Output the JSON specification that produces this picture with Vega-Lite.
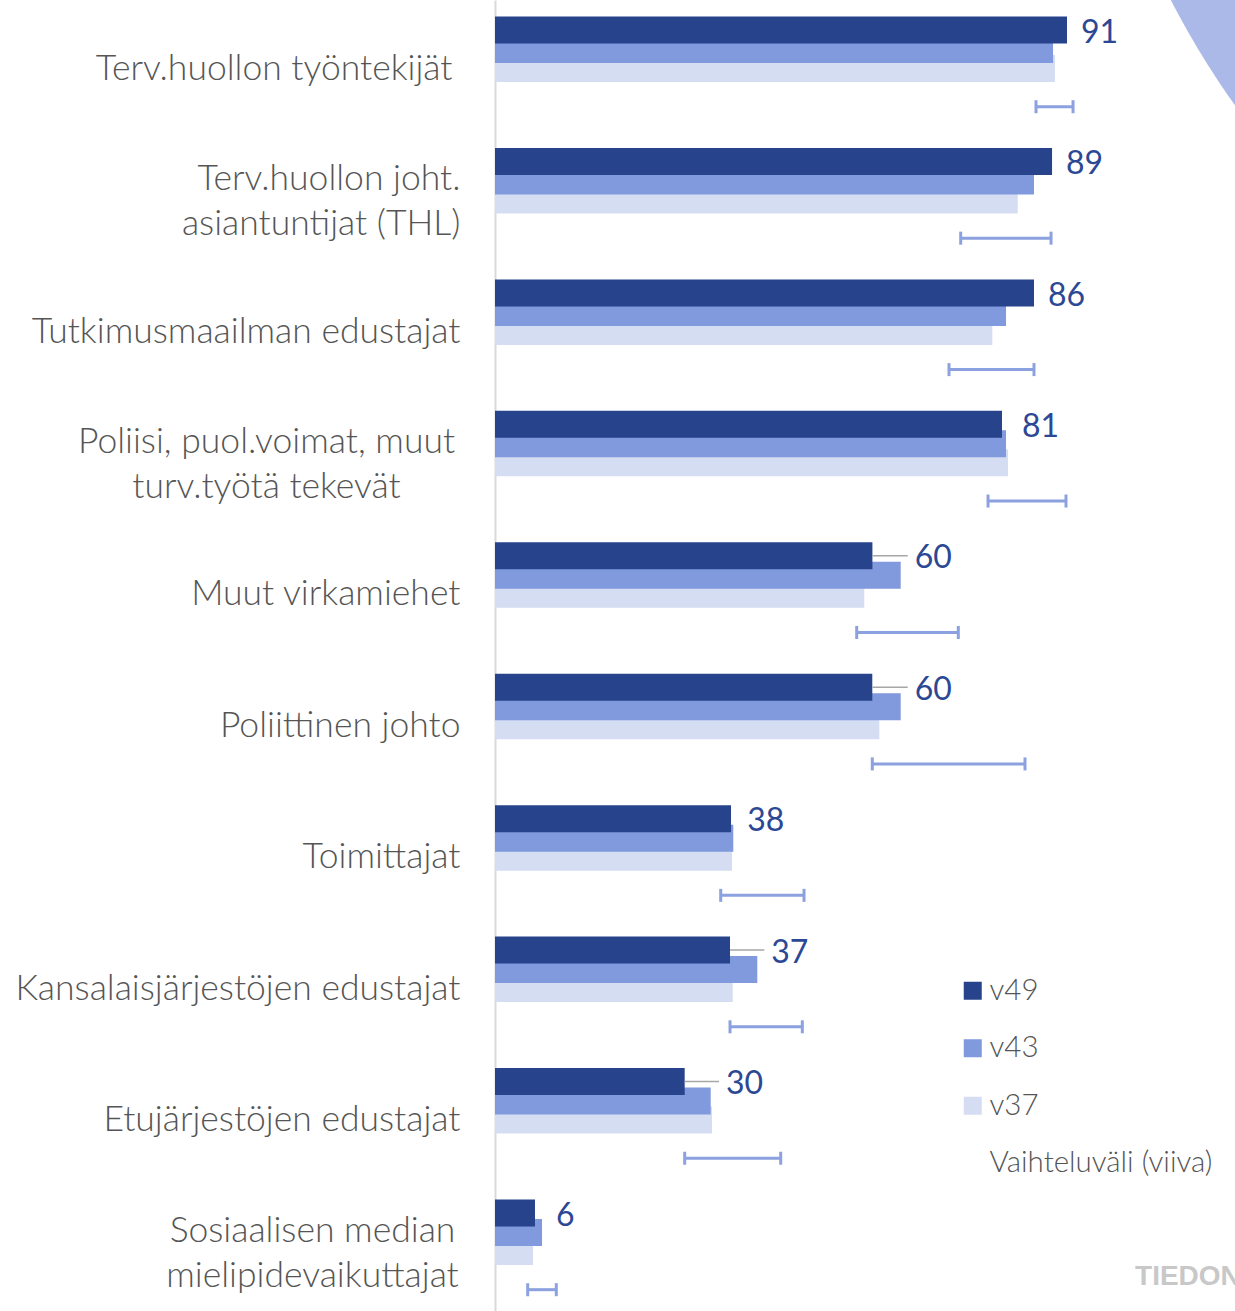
{
  "$schema": "https://vega.github.io/schema/vega-lite/v6.json",
  "width": 740,
  "height": 1311,
  "autosize": {"type": "none"},
  "padding": {"left": 495, "top": 0, "right": 0, "bottom": 0},
  "background": "white",
  "config": {
    "view": {"stroke": null},
    "font": "Lato",
    "legend": {"labelFont": "Lato"}
  },
  "data": {
    "values": [
      {"cat": "Terv.huollon työntekijät", "v49": 90.98, "v43": 88.76, "v37": 89.07, "lo": 86.05, "hi": 91.94},
      {"cat": "Terv.huollon  joht.|asiantuntijat (THL)", "v49": 88.6, "v43": 85.73, "v37": 83.14, "lo": 74.07, "hi": 88.44},
      {"cat": "Tutkimusmaailman edustajat", "v49": 85.73, "v43": 81.28, "v37": 79.1, "lo": 72.21, "hi": 85.73},
      {"cat": "Poliisi, puol.voimat,  muut|turv.työtä tekevät", "v49": 80.64, "v43": 81.28, "v37": 81.6, "lo": 78.42, "hi": 90.82},
      {"cat": "Muut virkamiehet", "v49": 60.03, "v43": 64.53, "v37": 58.74, "lo": 57.53, "hi": 73.69},
      {"cat": "Poliittinen johto", "v49": 60.01, "v43": 64.53, "v37": 61.13, "lo": 60.01, "hi": 84.3},
      {"cat": "Toimittajat", "v49": 37.54, "v43": 37.9, "v37": 37.7, "lo": 35.9, "hi": 49.15},
      {"cat": "Kansalaisjärjestöjen edustajat", "v49": 37.38, "v43": 41.72, "v37": 37.81, "lo": 37.38, "hi": 48.88},
      {"cat": "Etujärjestöjen edustajat", "v49": 30.17, "v43": 34.31, "v37": 34.52, "lo": 30.17, "hi": 45.44},
      {"cat": "Sosiaalisen median|mielipidevaikuttajat", "v49": 6.36, "v43": 7.48, "v37": 6.04, "lo": 5.2, "hi": 9.75}
    ]
  },
  "encoding": {
    "y": {
      "field": "cat",
      "type": "nominal",
      "sort": null,
      "scale": {
        "domain": [
          "Terv.huollon työntekijät",
          "Terv.huollon  joht.|asiantuntijat (THL)",
          "Tutkimusmaailman edustajat",
          "Poliisi, puol.voimat,  muut|turv.työtä tekevät",
          "Muut virkamiehet",
          "Poliittinen johto",
          "Toimittajat",
          "Kansalaisjärjestöjen edustajat",
          "Etujärjestöjen edustajat",
          "Sosiaalisen median|mielipidevaikuttajat"
        ],
        "range": [0, 1314.4],
        "paddingInner": 0,
        "paddingOuter": 0
      },
      "axis": {
        "title": null,
        "ticks": false,
        "domain": true,
        "domainColor": "#d9d9d9",
        "domainWidth": 2,
        "labelFont": "Lato",
        "labelFontSize": 35.5,
        "labelFontWeight": 300,
        "labelColor": "#555555",
        "labelLimit": 0,
        "labelLineHeight": 45,
        "labelExpr": "split(datum.label, '|')",
        "labelAlign": {
          "condition": {"test": "datum.value == 'Poliisi, puol.voimat,  muut|turv.työtä tekevät' || datum.value == 'Sosiaalisen median|mielipidevaikuttajat'", "value": "center"},
          "value": "right"
        },
        "labelPadding": {
          "condition": [
            {"test": "datum.value == 'Poliisi, puol.voimat,  muut|turv.työtä tekevät'", "value": 229},
            {"test": "datum.value == 'Sosiaalisen median|mielipidevaikuttajat'", "value": 183},
            {"test": "datum.value == 'Terv.huollon työntekijät'", "value": 43}
          ],
          "value": 35
        },
        "labelOffset": {
          "condition": {"test": "indexof(datum.value, '|') >= 0", "value": -18},
          "value": 3
        }
      }
    }
  },
  "layer": [
    {
      "data": {"values": [{"k": "arc"}]},
      "mark": {"type": "point", "shape": "circle", "filled": true, "color": "#abb9e8", "opacity": 1, "size": 2883204, "yOffset": -453.7, "strokeWidth": 0},
      "encoding": {
        "x": {"datum": 227.6, "type": "quantitative", "scale": {"domain": [0, 117.7], "nice": false, "zero": true}, "axis": null},
        "y": {"datum": "Terv.huollon työntekijät"}
      }
    },
    {
      "mark": {"type": "bar", "height": 27, "yOffset": 2.8},
      "encoding": {
        "x": {"field": "v37", "type": "quantitative", "scale": {"domain": [0, 117.7], "nice": false, "zero": true}, "axis": null},
        "color": {
          "datum": "v37",
          "type": "nominal",
          "scale": {"domain": ["v49", "v43", "v37", "Vaihteluväli (viiva)"], "range": ["#27438b", "#8199dd", "#d5ddf2", "#ffffff"]},
          "legend": {
            "title": null,
            "orient": "none",
            "legendX": 463,
            "legendY": 976,
            "symbolType": "square",
            "symbolSize": 324,
            "symbolStrokeWidth": 0,
            "labelFontSize": 29.5,
            "labelFontWeight": 300,
            "labelColor": "#555555",
            "labelOffset": 2,
            "labelLimit": 0,
            "rowPadding": 26.5,
            "padding": 0
          }
        }
      }
    },
    {
      "mark": {"type": "bar", "height": 27, "yOffset": -16.2},
      "encoding": {
        "x": {"field": "v43", "type": "quantitative"},
        "color": {"datum": "v43", "type": "nominal"}
      }
    },
    {
      "mark": {"type": "bar", "height": 27, "yOffset": -35.7},
      "encoding": {
        "x": {"field": "v49", "type": "quantitative"},
        "color": {"datum": "v49", "type": "nominal"}
      }
    },
    {
      "transform": [
        {"fold": ["v49", "v43", "v37"], "as": ["series", "value"]},
        {"joinaggregate": [{"op": "max", "field": "value", "as": "maxv"}], "groupby": ["cat"]},
        {"filter": "datum.series == 'v49' && datum.maxv - datum.v49 > 3"}
      ],
      "mark": {"type": "rule", "color": "#a6a6a6", "strokeWidth": 1.5, "yOffset": -35.7, "x2Offset": 7},
      "encoding": {
        "x": {"field": "v49", "type": "quantitative"},
        "x2": {"field": "maxv"}
      }
    },
    {
      "mark": {"type": "rule", "color": "#8ca1df", "strokeWidth": 3, "yOffset": 41},
      "encoding": {
        "x": {"field": "lo", "type": "quantitative"},
        "x2": {"field": "hi"}
      }
    },
    {
      "mark": {"type": "tick", "color": "#8ca1df", "thickness": 3, "size": 13, "yOffset": 41, "opacity": 1},
      "encoding": {
        "x": {"field": "lo", "type": "quantitative"}
      }
    },
    {
      "mark": {"type": "tick", "color": "#8ca1df", "thickness": 3, "size": 13, "yOffset": 41, "opacity": 1},
      "encoding": {
        "x": {"field": "hi", "type": "quantitative"}
      }
    },
    {
      "transform": [
        {"fold": ["v49", "v43", "v37"], "as": ["series", "value"]},
        {"joinaggregate": [{"op": "max", "field": "value", "as": "maxv"}], "groupby": ["cat"]},
        {"filter": "datum.series == 'v49'"}
      ],
      "mark": {"type": "text", "align": "left", "baseline": "middle", "dx": 14, "yOffset": -33, "font": "Lato", "fontSize": 32, "color": "#2c4894"},
      "encoding": {
        "x": {"field": "maxv", "type": "quantitative"},
        "text": {"field": "v49", "type": "quantitative", "format": ".0f"}
      }
    },
    {
      "data": {"values": [{"k": "logo"}]},
      "mark": {"type": "text", "align": "left", "baseline": "alphabetic", "font": "Liberation Sans", "fontWeight": "bold", "fontSize": 28, "color": "#c8c8c8", "yOffset": 36},
      "encoding": {
        "x": {"datum": 101.8, "type": "quantitative"},
        "y": {"datum": "Sosiaalisen median|mielipidevaikuttajat"},
        "text": {"value": "TIEDON"}
      }
    }
  ]
}
